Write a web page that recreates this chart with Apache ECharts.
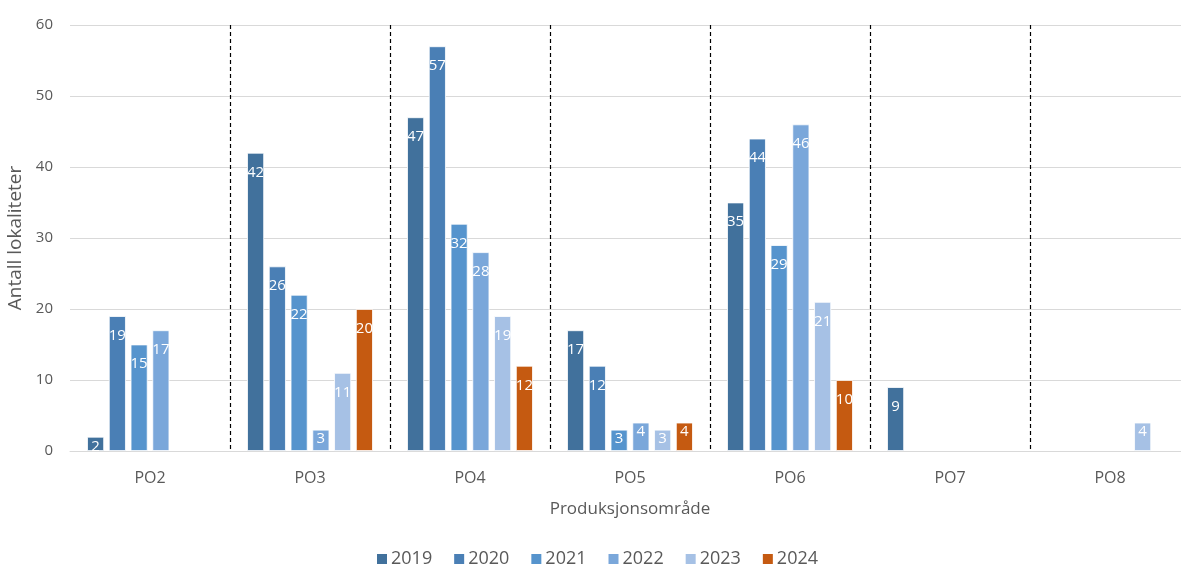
<!DOCTYPE html>
<html><head><meta charset="utf-8">
<script src="https://cdn.jsdelivr.net/npm/echarts@6/dist/echarts.min.js"></script>
<style>html,body{margin:0;padding:0;background:#fff}#c{width:1181px;height:568px}</style>
</head><body><div id="c"></div>
<script>
const categories = ['PO2','PO3','PO4','PO5','PO6','PO7','PO8'];
const years = ['2019','2020','2021','2022','2023','2024'];
const v2019 = [2, 42, 47, 17, 35, 9, null];
const v2020 = [19, 26, 57, 12, 44, null, null];
const v2021 = [15, 22, 32, 3, 29, null, null];
const v2022 = [17, 3, 28, 4, 46, null, null];
const v2023 = [null, 11, 19, 3, 21, null, 4];
const v2024 = [null, 20, 12, 4, 10, null, null];
const yTicks = [0, 10, 20, 30, 40, 50, 60];
const colors = ['#41719c','#4a7fb5','#5694cd','#7aa7da','#a6c1e5','#c55a11'];
const values = [v2019, v2020, v2021, v2022, v2023, v2024];
const FONT = '"Open Sans", "Noto Sans", sans-serif';

function toData(arr) {
  return arr.map(function (v) {
    if (v == null) return null;
    return {value: v, label: {distance: v <= 5 ? 2 : 12}};
  });
}

const chart = echarts.init(document.getElementById('c'), null, {renderer:'canvas'});
chart.setOption({
  animation: false,
  textStyle: {fontFamily: FONT},
  color: colors,
  grid: {left: 70, width: 1120, top: 25, height: 426, containLabel: false, outerBoundsMode: 'none'},
  legend: {
    top: 545, left: 372,
    itemWidth: 10, itemHeight: 10, itemGap: 22, itemStyle: {borderWidth: 0},
    icon: 'rect',
    textStyle: {color: '#595959', fontSize: 18, fontFamily: FONT, padding: [0, 0, 0, -1]},
    data: years
  },
  xAxis: {
    type: 'category',
    data: categories,
    name: 'Produksjonsområde',
    nameLocation: 'middle',
    nameGap: 50,
    nameTextStyle: {color: '#595959', fontSize: 17, fontFamily: FONT},
    axisLine: {show: true, lineStyle: {color: '#d9d9d9', width: 1}},
    axisTick: {show: false},
    axisLabel: {color: '#595959', fontSize: 16, margin: 19, fontFamily: FONT},
    splitLine: {
      show: true,
      interval: function (i) { return i > 0; },
      lineStyle: {color: '#000', type: [4, 3], width: 1.2}
    }
  },
  yAxis: {
    type: 'value',
    min: 0, max: 60, interval: 10,
    name: 'Antall lokaliteter',
    nameLocation: 'middle',
    nameGap: 40,
    nameRotate: 90,
    nameTextStyle: {color: '#595959', fontSize: 19, fontFamily: FONT},
    axisLine: {show: false},
    axisTick: {show: false},
    axisLabel: {color: '#595959', fontSize: 15, margin: 17, fontFamily: FONT,
      formatter: function (v) { return yTicks.indexOf(v) >= 0 ? String(v) : ''; }},
    splitLine: {show: true, lineStyle: {color: '#d9d9d9', width: 1}}
  },
  series: years.map(function (y, i) {
    return {
      name: y,
      type: 'bar',
      data: toData(values[i]),
      barWidth: 17,
      barGap: '28%',
      itemStyle: {color: colors[i], borderColor: '#ffffff', borderWidth: 0.8},
      label: {
        show: true, position: 'insideTop', distance: 12,
        color: '#ffffff', fontSize: 15, fontFamily: FONT
      }
    };
  })
});
</script></body></html>
